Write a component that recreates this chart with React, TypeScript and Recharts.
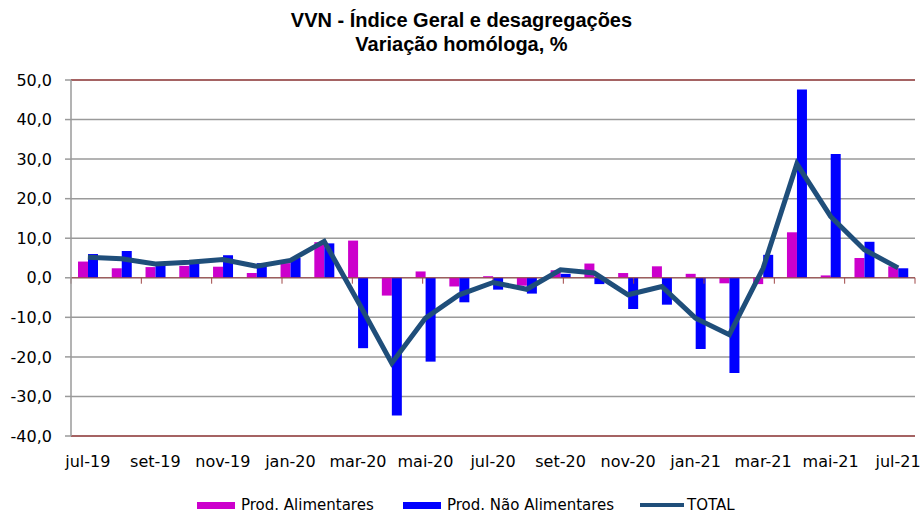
import React from 'react';
import {
  ComposedChart,
  Bar,
  Line,
  XAxis,
  YAxis,
  CartesianGrid,
  ReferenceLine,
} from 'recharts';

const months = [
  'jul-19', 'ago-19', 'set-19', 'out-19', 'nov-19', 'dez-19', 'jan-20', 'fev-20',
  'mar-20', 'abr-20', 'mai-20', 'jun-20', 'jul-20', 'ago-20', 'set-20', 'out-20',
  'nov-20', 'dez-20', 'jan-21', 'fev-21', 'mar-21', 'abr-21', 'mai-21', 'jun-21', 'jul-21',
];

const alimentares = [
  4.1, 2.4, 2.7, 3.0, 2.8, 1.2, 3.7, 9.0, 9.4, -4.5, 1.6, -2.2, 0.4, -2.0, 1.9, 3.6,
  1.2, 2.9, 1.0, -1.4, -1.6, 11.5, 0.6, 5.0, 2.9,
];

const naoAlimentares = [
  6.0, 6.8, 3.3, 3.6, 5.7, 3.7, 5.0, 8.7, -17.8, -34.8, -21.2, -6.2, -3.0, -4.0, 1.0, -1.6,
  -7.9, -6.8, -18.0, -24.1, 5.8, 47.6, 31.3, 9.1, 2.4,
];

const total = [
  5.2, 4.8, 3.5, 3.9, 4.6, 2.9, 4.4, 9.2, -6.0, -21.6, -10.2, -4.3, -1.2, -2.9, 2.0, 1.2,
  -4.3, -2.2, -10.2, -14.4, 2.4, 28.8, 15.5, 7.1, 2.5,
];

const yTicks = [-40, -30, -20, -10, 0, 10, 20, 30, 40, 50];
const boundaryTicks = [0, 2, 4, 6, 8, 10, 12, 14, 16, 18, 20, 22, 24];

const titleLines = ['VVN - Índice Geral e desagregações', 'Variação homóloga, %'];

const data = months.map((m, i) => ({
  month: m,
  alim: alimentares[i],
  nao: naoAlimentares[i],
  total: total[i],
}));

const MAGENTA = '#CC00CC';
const BLUE = '#0000FF';
const NAVY = '#1F4E7A';
const BORDER = '#A04848';
const GRID = '#9A9A9A';
const TICK_FONT = '"DejaVu Sans", Verdana, sans-serif';

const fmt = (v: number) => v.toFixed(1).replace('.', ',');

export default function App() {
  return (
    <div style={{ position: 'absolute', left: 0, top: 0, width: 923, height: 515, background: '#fff', overflow: 'hidden' }}>
      <div
        style={{
          position: 'absolute',
          left: 0,
          top: 8,
          width: 923,
          textAlign: 'center',
          fontFamily: '"Liberation Sans", Arial, sans-serif',
          fontWeight: 'bold',
          fontSize: 20,
          lineHeight: '24px',
          color: '#000',
        }}
      >
        {titleLines.map((t) => (
          <div key={t}>{t}</div>
        ))}
      </div>
      <ComposedChart
        width={923}
        height={515}
        data={data}
        margin={{ top: 80, right: 8, bottom: 39, left: 0 }}
        barGap={0}
      >
        <CartesianGrid vertical={false} stroke={GRID} strokeWidth={1.5} />
        <XAxis
          dataKey="month"
          interval={1}
          axisLine={false}
          tickLine={false}
          tickSize={0}
          tickMargin={20}
          height={40}
          tick={{ fontFamily: TICK_FONT, fontSize: 16, fill: '#000' }}
        />
        <XAxis xAxisId="num" type="number" domain={[0, 25]} hide />
        <YAxis
          domain={[-40, 50]}
          ticks={yTicks}
          width={71}
          tickFormatter={fmt}
          axisLine={{ stroke: GRID, strokeWidth: 1.5 }}
          tickLine={{ stroke: GRID, strokeWidth: 1.5 }}
          tickSize={6}
          tickMargin={13}
          tick={{ fontFamily: TICK_FONT, fontSize: 16, fill: '#000' }}
          interval={0}
        />
        <Bar dataKey="alim" fill={MAGENTA} barSize={10} isAnimationActive={false} />
        <Bar dataKey="nao" fill={BLUE} barSize={10} isAnimationActive={false} />
        <ReferenceLine y={0} stroke={BORDER} strokeWidth={1} />
        {boundaryTicks.map((k) => (
          <ReferenceLine
            key={k}
            xAxisId="num"
            segment={[{ x: k, y: 0 }, { x: k, y: -1.5 }]}
            stroke={BORDER}
            strokeWidth={1}
          />
        ))}
        <ReferenceLine y={50} stroke={BORDER} strokeWidth={1.5} />
        <ReferenceLine y={-40} stroke={BORDER} strokeWidth={1.5} />
        <ReferenceLine xAxisId="num" x={25} stroke={BORDER} strokeWidth={1.5} />
        <Line
          type="linear"
          dataKey="total"
          stroke={NAVY}
          strokeWidth={5}
          dot={false}
          activeDot={false}
          isAnimationActive={false}
        />
      </ComposedChart>
      <div
        style={{
          position: 'absolute',
          left: 0,
          top: 0,
          width: 923,
          height: 515,
          pointerEvents: 'none',
          fontFamily: TICK_FONT,
          fontSize: 15,
          lineHeight: '15px',
          color: '#000',
        }}
      >
        <div style={{ position: 'absolute', left: 197, top: 502, width: 38, height: 7, background: MAGENTA }} />
        <div style={{ position: 'absolute', left: 241, top: 498, whiteSpace: 'nowrap' }}>Prod. Alimentares</div>
        <div style={{ position: 'absolute', left: 403, top: 502, width: 38, height: 7, background: BLUE }} />
        <div style={{ position: 'absolute', left: 447, top: 498, whiteSpace: 'nowrap' }}>Prod. Não Alimentares</div>
        <div style={{ position: 'absolute', left: 640, top: 503, width: 44, height: 4, background: NAVY }} />
        <div style={{ position: 'absolute', left: 687, top: 498, whiteSpace: 'nowrap' }}>TOTAL</div>
      </div>
    </div>
  );
}
